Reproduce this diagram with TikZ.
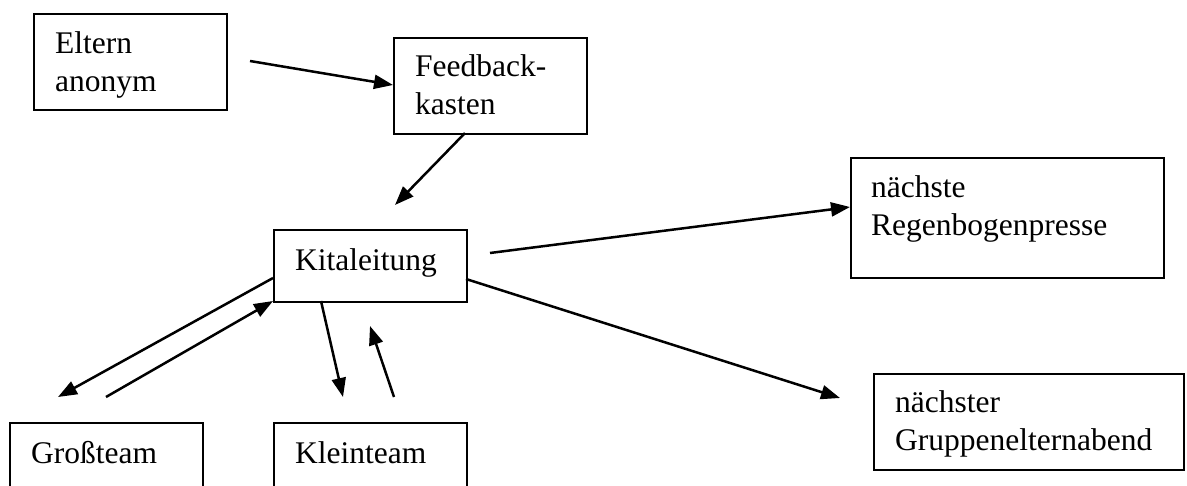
\documentclass[tikz,border=0pt]{standalone}
\usepackage{fontspec}
\setmainfont{Liberation Serif}
\usetikzlibrary{arrows.meta}
\begin{document}
\begin{tikzpicture}[x=1pt,y=-1pt,
  box/.style={draw, line width=1.7pt, inner sep=0pt, anchor=north west},
  lbl/.style={anchor=north west, inner sep=0pt, align=left, font=\fontsize{31.5}{38}\selectfont},
  conn/.style={line width=2.5pt, -{Triangle[length=19pt,width=14pt]}}]
\useasboundingbox (0,0) rectangle (1187,486);
\clip (0,0) rectangle (1187,486);
% boxes
\node[box, minimum width=193pt, minimum height=96pt] (eltern) at (33,13) {};
\node[box, minimum width=193pt, minimum height=96pt] (feed) at (393,37) {};
\node[box, minimum width=193pt, minimum height=72pt] (kita) at (273,229) {};
\node[box, minimum width=313pt, minimum height=120pt] (regen) at (850,157) {};
\node[box, minimum width=310pt, minimum height=96pt] (gruppe) at (873,373) {};
\node[box, minimum width=193pt, minimum height=100pt] (gross) at (9,422) {};
\node[box, minimum width=193pt, minimum height=100pt] (klein) at (273,422) {};
% texts
\node[lbl] (eltern-t) at (55,31.5) {Eltern\\anonym};
\node[lbl] (feed-t) at (415,54.5) {Feedback-\\kasten};
\node[lbl] (kita-t) at (295,248.5) {Kitaleitung};
\node[lbl] (regen-t) at (871,175) {nächste\\Regenbogenpresse};
\node[lbl] (gruppe-t) at (895,390.5) {nächster\\Gruppenelternabend};
\node[lbl] (gross-t) at (31,441.5) {Großteam};
\node[lbl] (klein-t) at (295,441.5) {Kleinteam};
% connector end points
\coordinate (a1) at (250,61);
\coordinate (a2) at (feed.west |- 0,85);
\coordinate (b1) at (465,133);
\coordinate (b2) at (395,205);
\coordinate (c1) at (490,253);
\coordinate (c2) at (850,207);
\coordinate (d1) at (273,278);
\coordinate (d2) at (58,397);
\coordinate (e1) at (106,397);
\coordinate (e2) at (273,301);
\coordinate (f1) at (321,301);
\coordinate (f2) at (343,397);
\coordinate (g1) at (394,397);
\coordinate (g2) at (370,326);
\coordinate (h1) at (466,279);
\coordinate (h2) at (840,398);
% connectors
\draw[conn] (a1) -- (a2);
\draw[conn] (b1) -- (b2);
\draw[conn] (c1) -- (c2);
\draw[conn] (d1) -- (d2);
\draw[conn] (e1) -- (e2);
\draw[conn] (f1) -- (f2);
\draw[conn] (g1) -- (g2);
\draw[conn] (h1) -- (h2);
\end{tikzpicture}
\end{document}
